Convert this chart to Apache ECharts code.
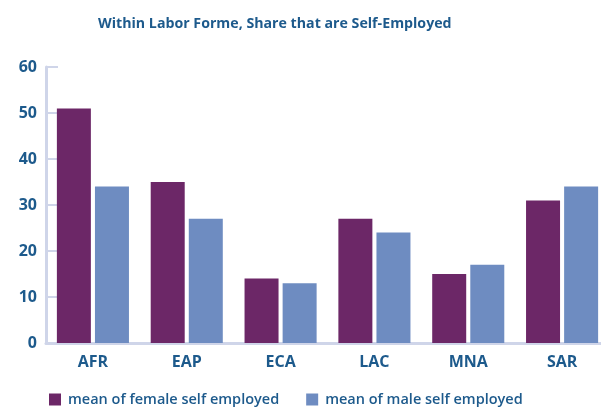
<!DOCTYPE html>
<html>
<head>
<meta charset="utf-8">
<script src="https://cdn.jsdelivr.net/npm/echarts@6/dist/echarts.min.js"></script>
<style>
  html, body { margin: 0; padding: 0; background: #fff; }
  #chart { width: 601px; height: 409px; }
</style>
</head>
<body>
<div id="chart"></div>
<script>
// regions and values
const regions = ['AFR', 'EAP', 'ECA', 'LAC', 'MNA', 'SAR'];
const femaleSelf = [51, 35, 14, 27, 15, 31];
const maleSelf = [34, 27, 13, 24, 17, 34];
const yTicks = [0, 60, 10]; // min, max, interval

const textColor = '#1d5a8c';
const axisColor = '#cfd5e9';

const myChart = echarts.init(document.getElementById('chart'));
const option = {
    animation: false,
    title: {
        text: 'Within Labor Forme, Share that are Self-Employed',
        left: 93,
        top: 12,
        textStyle: {
            color: textColor,
            fontFamily: 'Open Sans',
            fontWeight: 'bold',
            fontSize: 14.2
        }
    },
    legend: {
        left: 44,
        top: 387,
        icon: 'rect',
        itemWidth: 12,
        itemHeight: 12,
        itemGap: 27,
        textStyle: {
            color: textColor,
            fontFamily: 'Open Sans',
            fontWeight: 600,
            fontSize: 14.5,
            padding: [0, 0, 0, 2]
        },
        data: ['mean of female self employed', 'mean of male self employed']
    },
    grid: {
        left: 46,
        width: 563,
        top: 67,
        bottom: 66,
        outerBoundsMode: 'none'
    },
    xAxis: {
        type: 'category',
        data: regions,
        axisLine: { lineStyle: { color: axisColor, width: 3 } },
        axisTick: { inside: true, length: 6, lineStyle: { color: axisColor, width: 2 } },
        axisLabel: {
            margin: 11,
            color: textColor,
            fontFamily: 'Open Sans',
            fontWeight: 'bold',
            fontSize: 16
        }
    },
    yAxis: {
        type: 'value',
        min: yTicks[0],
        max: yTicks[1],
        interval: yTicks[2],
        splitLine: { show: false },
        axisLine: { show: true, lineStyle: { color: axisColor, width: 3 } },
        axisTick: { show: true, inside: true, length: 12, lineStyle: { color: axisColor, width: 2 } },
        axisLabel: {
            margin: 9,
            padding: [0, 0, 11, 0],
            color: textColor,
            fontFamily: 'Open Sans',
            fontWeight: 'bold',
            fontSize: 16
        }
    },
    series: [
        {
            name: 'mean of female self employed',
            type: 'bar',
            barWidth: 34,
            barGap: '12%',
            itemStyle: { color: '#6c2767' },
            data: femaleSelf
        },
        {
            name: 'mean of male self employed',
            type: 'bar',
            barWidth: 34,
            barGap: '12%',
            itemStyle: { color: '#6e8cc1' },
            data: maleSelf
        }
    ]
};
myChart.setOption(option);
</script>
</body>
</html>
